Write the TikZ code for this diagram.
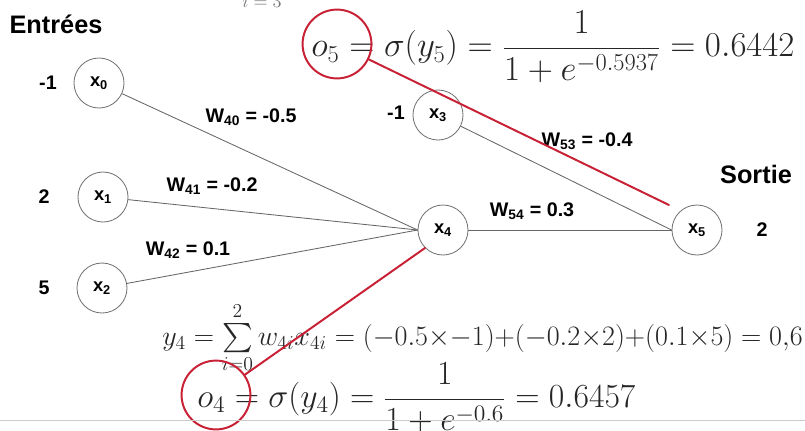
\RequirePackage{fix-cm}
\documentclass[tikz,border=0pt]{standalone}
\usepackage{amsmath}
\usepackage{fontspec}
\newfontfamily\arialfont{Liberation Sans}
\definecolor{pathred}{RGB}{200,32,52}
\begin{document}
\begin{tikzpicture}[
  x=0.025cm,
  y=-0.025cm,
  line cap=round,
  line join=round,
  neuron/.style={circle, draw=black!55, line width=0.6pt, minimum size=1.25cm,
    inner sep=0pt, font=\arialfont\bfseries\fontsize{13}{13}\selectfont},
  input value/.style={font=\arialfont\bfseries\fontsize{14}{14}\selectfont},
  weight label/.style={font=\arialfont\bfseries\fontsize{14}{14}\selectfont},
  layer title/.style={font=\arialfont\bfseries\fontsize{18}{20}\selectfont},
  synapse/.style={draw=black!60, line width=0.6pt},
  trace/.style={draw=pathred, line width=1.4pt},
  trace ring/.style={circle, draw=pathred, line width=1.4pt, minimum size=1.72cm, inner sep=0pt},
  formula/.style={anchor=west, inner sep=0pt, text=black!85, font=\fontsize{24.8}{27}\selectfont}
]
  \useasboundingbox (0,0) rectangle (805,430);
  \clip (0,0) rectangle (805,430);

  % Layer titles and the fragment of the formula cut at the top.
  \node[layer title] (entrees) at (56,24) {Entrées};
  \node[layer title] (sortie) at (756,174) {Sortie};
  \node[text=black!55, font=\fontsize{13}{13}\selectfont] (topcut) at (262,2) {$i=3$};

  % Input neurons with their values.
  \foreach \name/\idx/\x/\y/\val/\vx in {
    x0/0/99/83/-1/48,
    x1/1/103/197/2/44,
    x2/2/102/288/5/44
  } {
    \node[neuron] (\name) at (\x,\y) {x\textsubscript{\idx}};
    \node[input value] (v\name) at (\vx,\y) {\val};
  }

  % Bias, hidden and output neurons.
  \node[neuron] (x3) at (438,115) {x\textsubscript{3}};
  \node[input value] (vx3) at (396,113) {-1};
  \node[neuron] (x4) at (443,230) {x\textsubscript{4}};
  \node[neuron] (x5) at (697,230) {x\textsubscript{5}};
  \node[input value] (vx5) at (762,230) {2};

  % Connections.
  \draw[synapse] (x0) -- (x4.west);
  \draw[synapse] (x1) -- (x4.west);
  \draw[synapse] (x2) -- (x4.west);
  \draw[synapse] (x4) -- (x5);
  \draw[synapse] (x3) -- (x5.west);

  % Weights.
  \node[weight label] (w40) at (251,117) {W\textsubscript{40} = -0.5};
  \node[weight label] (w41) at (212,186) {W\textsubscript{41} = -0.2};
  \node[weight label] (w42) at (188,250) {W\textsubscript{42} = 0.1};
  \node[weight label] (w53) at (587,141) {W\textsubscript{53} = -0.4};
  \node[weight label] (w54) at (532,211) {W\textsubscript{54} = 0.3};

  % Formulas.
  \node[formula] (fo5) at (311,47)
    {$o_5 = \sigma(y_5) = \dfrac{1}{1+e^{-0.5937}} = 0.6442$};
  \node[formula, font=\fontsize{20}{23}\selectfont] (fy4) at (162,338)
    {$y_4 = \sum\limits_{i=0}^{2} w_{4i}x_{4i} = (-0.5{\times}{-1}){+}(-0.2{\times}2){+}(0.1{\times}5) = 0{,}6$};
  \node[formula, font=\fontsize{24}{26}\selectfont] (fo4) at (197,398)
    {$o_4 = \sigma(y_4) = \dfrac{1}{1+e^{-0.6}} = 0.6457$};

  % Red marks linking outputs to their neurons.
  \node[trace ring] (o5ring) at (337,44) {};
  \node[trace ring] (o4ring) at (216,395) {};
  \coordinate (o5end) at (669,205);
  \draw[trace] (o5ring) -- (o5end);
  \draw[trace] (o4ring) -- (x4.south west);

  \draw[black!20, line width=0.6pt] (0,420) -- (805,420);
\end{tikzpicture}
\end{document}
